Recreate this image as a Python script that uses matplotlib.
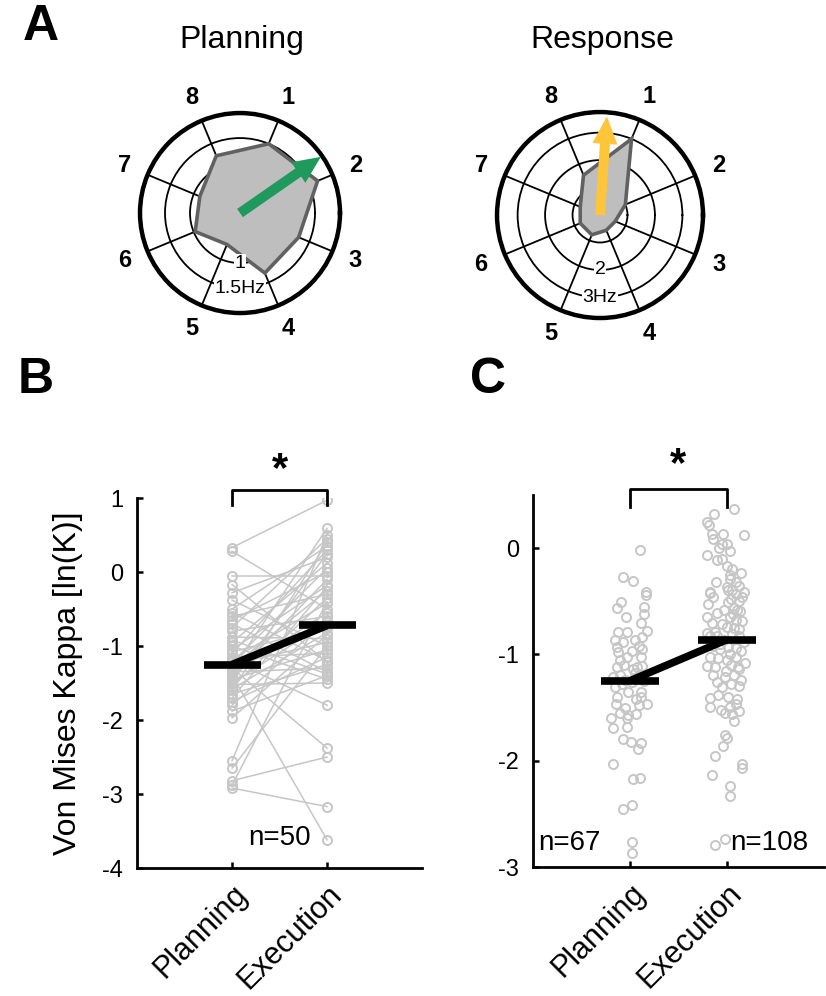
import numpy as np
import matplotlib
matplotlib.use("Agg")
import matplotlib.pyplot as plt

plt.rcParams['font.family'] = ['Liberation Sans', 'DejaVu Sans']

# ---- panel A: tuning of firing rate over the 8 targets ----
directions = ['1', '2', '3', '4', '5', '6', '7', '8']
dir_angles = [67.5, 22.5, 337.5, 292.5, 247.5, 202.5, 157.5, 112.5]   # degrees, ccw from east

planning_rate = [1.50, 1.68, 1.27, 1.30, 0.68, 0.97, 0.87, 1.24]   # Hz
planning_pref_angle = 34.8
planning_pref_len = 1.97
planning_rings = [0.5, 1.0, 1.5]
planning_rmax = 2.0

response_rate = [3.00, 1.00, 0.60, 0.60, 0.78, 0.78, 0.78, 1.57]   # Hz
response_pref_angle = 86.0
response_pref_len = 3.6
response_rings = [1.0, 2.0, 3.0]
response_rmax = 3.75

# ---- panel B: paired kappa values (ln K), n=50 ----
kappa_plan_B = [0.33, 0.28, -0.05, -0.28, -0.38, -0.5, -0.55, -0.6, -0.65, -0.7,
                -0.75, -0.8, -0.88, -0.95, -1.0, -1.05, -1.08, -1.1, -1.15, -1.18,
                -1.2, -1.22, -1.25, -1.28, -1.3, -1.32, -1.35, -1.38, -1.4, -1.42,
                -1.45, -1.48, -1.5, -1.52, -1.55, -1.58, -1.6, -1.65, -1.7, -1.75,
                -1.8, -1.88, -1.97, -2.55, -2.65, -2.82, -2.88, -2.92, -0.17, -0.92]
kappa_exec_B = [0.97, -0.5, -0.05, 0.2, -1.0, 0.35, -1.2, -0.3, 0.0, -1.35,
                0.45, -0.6, -0.9, 0.12, -1.45, -0.18, -0.75, 0.3, -1.1, -0.42,
                -1.8, 0.05, -0.95, -0.25, -2.38, 0.59, -1.3, -0.55, -3.62, -0.1,
                -1.05, 0.25, -0.68, -1.5, -0.35, -0.82, 0.4, -1.25, -0.2, -1.15,
                -0.65, -1.4, -0.85, 0.5, -1.0, -2.5, -0.4, -3.17, -1.22, -1.38]

# ---- panel C: unpaired kappa values, planning n=67, execution n=108 ----
# (jitter offset along x, value)
plan_C = [(0.11, -0.02), (-0.07, -0.27), (0.03, -0.31), (0.17, -0.41), (0.17, -0.44),
          (-0.09, -0.51), (-0.13, -0.56), (0.15, -0.55), (0.15, -0.62), (-0.04, -0.65),
          (0.12, -0.70), (-0.12, -0.79), (-0.03, -0.79), (0.13, -0.84), (-0.15, -0.86),
          (-0.07, -0.88), (0.05, -0.86), (-0.13, -0.93), (0.10, -0.92), (0.13, -0.95),
          (-0.10, -1.05), (-0.03, -1.02), (0.12, -1.02), (-0.13, -1.12), (0.03, -1.14),
          (0.08, -1.12), (0.13, -1.11), (-0.17, -1.21), (-0.10, -1.19), (0.05, -1.17),
          (-0.05, -1.24), (0.02, -1.26), (-0.15, -1.31), (-0.02, -1.35), (0.12, -1.35),
          (-0.13, -1.40), (0.12, -1.40), (-0.14, -1.47), (-0.05, -1.50), (0.10, -1.48),
          (0.18, -1.47), (-0.10, -1.55), (-0.02, -1.57), (0.07, -1.56), (-0.19, -1.60),
          (-0.03, -1.60), (-0.17, -1.69), (-0.03, -1.68), (-0.07, -1.80), (0.01, -1.82),
          (0.12, -1.83), (0.09, -1.89), (-0.17, -2.03), (0.03, -2.17), (0.11, -2.16),
          (-0.07, -2.45), (0.02, -2.42), (0.02, -2.76), (0.02, -2.87), (0.08, -1.22),
          (-0.08, -1.28), (0.15, -1.25), (-0.12, -0.98), (0.02, -0.97), (0.06, -1.42),
          (-0.06, -1.10), (0.18, -0.78)]
exec_C = [(0.08, 0.37), (-0.13, 0.32), (-0.20, 0.25), (-0.18, 0.22), (0.18, 0.12),
          (-0.15, 0.13), (-0.14, 0.09), (-0.04, 0.13), (-0.05, 0.04), (0.00, 0.04),
          (-0.08, 0.00), (-0.20, -0.06), (0.03, -0.03), (-0.10, -0.11), (-0.05, -0.10),
          (0.00, -0.17), (0.06, -0.20), (0.03, -0.25), (0.15, -0.23), (0.03, -0.29),
          (0.10, -0.32), (-0.11, -0.32), (0.00, -0.37), (0.06, -0.39), (0.13, -0.36),
          (-0.17, -0.42), (0.10, -0.43), (0.16, -0.46), (0.13, -0.50), (0.05, -0.48),
          (0.01, -0.51), (-0.19, -0.53), (0.08, -0.56), (0.14, -0.59), (0.18, -0.41),
          (-0.17, -0.41), (0.01, -0.39), (-0.10, -0.61), (-0.20, -0.65), (0.03, -0.65),
          (0.10, -0.68), (0.16, -0.69), (-0.05, -0.71), (0.00, -0.74), (0.08, -0.75),
          (0.13, -0.76), (-0.20, -0.80), (-0.17, -0.83), (-0.10, -0.83), (-0.03, -0.86),
          (0.06, -0.81), (0.13, -0.83), (-0.12, -0.79), (0.11, -0.58), (-0.14, -0.92),
          (-0.07, -0.95), (0.01, -0.93), (0.10, -0.94), (0.15, -0.97), (-0.17, -1.02),
          (-0.09, -1.03), (0.00, -1.05), (0.10, -1.02), (-0.20, -1.11), (-0.12, -1.12),
          (0.05, -1.10), (0.13, -1.14), (-0.14, -1.19), (-0.02, -1.21), (0.08, -1.19),
          (0.15, -1.24), (-0.10, -1.26), (-0.05, -1.31), (0.05, -1.28), (0.13, -1.30),
          (-0.17, -1.41), (-0.09, -1.38), (0.01, -1.40), (0.11, -1.42), (-0.17, -1.49),
          (0.03, -1.49), (0.10, -1.47), (-0.02, -1.55), (0.06, -1.56), (0.13, -1.53),
          (0.08, -1.63), (-0.06, -1.52), (-0.02, -1.76), (0.00, -1.79), (-0.04, -1.86),
          (-0.12, -1.96), (0.16, -2.03), (0.16, -2.07), (-0.15, -2.13), (0.03, -2.24),
          (0.04, -2.33), (-0.12, -2.79), (-0.02, -2.74), (0.12, -1.12), (-0.14, -0.46),
          (0.07, -0.62), (-0.07, -0.90), (0.18, -0.88), (-0.15, -0.70), (0.04, -1.00),
          (-0.03, -0.58), (0.19, -1.08), (-0.01, -1.16)]

conditions = ['Planning', 'Execution']

GRAY = '#c6c6c6'

fig = plt.figure(figsize=(8.26, 9.96), dpi=100)


def polar_panel(rect, rate, pref_angle, pref_len, rings, ring_labels, rmax, arrow_color):
    ax = fig.add_axes(rect, projection='polar')
    th = np.deg2rad(dir_angles + dir_angles[:1])
    r = rate + rate[:1]
    ax.fill(th, r, facecolor='#bebebe', edgecolor='#616161', lw=2.6, zorder=2)
    ax.set_xlim(0, 2 * np.pi)
    ax.set_ylim(0, rmax)
    ax.set_thetagrids(dir_angles, [''] * 8)
    ax.set_rgrids(rings, [''] * len(rings))
    ax.grid(True, color='k', lw=1.3)
    ax.spines['polar'].set_linewidth(3.2)
    ax.tick_params(length=0)
    for a, lab in zip(dir_angles, directions):
        ax.text(np.deg2rad(a), rmax * 1.25, lab, ha='center', va='center',
                fontsize=17, fontweight='bold', clip_on=False)
    # radial labels on the rings, straight below the centre
    for rv, lab in zip(rings[1:], ring_labels):
        ax.text(np.deg2rad(270), rv, lab, ha='center', va='center', fontsize=14,
                bbox=dict(facecolor='white', edgecolor='none', pad=0.3), zorder=3)
    ax.annotate('', xy=(np.deg2rad(pref_angle), pref_len), xytext=(0, 0),
                arrowprops=dict(arrowstyle='simple,head_length=1.1,head_width=1.0,tail_width=0.4',
                                color=arrow_color, lw=0, shrinkA=0, shrinkB=0,
                                mutation_scale=18), zorder=4)
    return ax


polar_panel([0.1695, 0.6857, 0.2421, 0.2008], planning_rate,
            planning_pref_angle, planning_pref_len, planning_rings, ['1', '1.5Hz'],
            planning_rmax, '#1f9a5c')
polar_panel([0.6017, 0.6807, 0.2494, 0.2068], response_rate,
            response_pref_angle, response_pref_len, response_rings, ['2', '3Hz'],
            response_rmax, '#fcc53a')
fig.text(242 / 826, 1 - 40 / 996, 'Planning', ha='center', va='center', fontsize=23)
fig.text(602 / 826, 1 - 40 / 996, 'Response', ha='center', va='center', fontsize=23)


def style_axis(ax, ylim, yticks):
    ax.set_xlim(0, 3)
    ax.set_ylim(*ylim)
    ax.spines['top'].set_visible(False)
    ax.spines['right'].set_visible(False)
    for s in ['left', 'bottom']:
        ax.spines[s].set_linewidth(2)
    ax.set_xticks([1, 2])
    ax.set_xticklabels(conditions, rotation=45, ha='right', rotation_mode='anchor', fontsize=22)
    ax.set_yticks(yticks)
    ax.set_yticklabels([str(t) for t in yticks], fontsize=17)
    ax.tick_params(direction='in', length=4, width=1.8, pad=10)
    ax.tick_params(axis='x', pad=8)


def mean_bars(ax, m1, m2):
    ax.plot([1, 2], [m1, m2], color='k', lw=5.5, solid_capstyle='butt', zorder=5)
    ax.plot([0.7, 1.3], [m1, m1], color='k', lw=5.5, solid_capstyle='butt', zorder=5)
    ax.plot([1.7, 2.3], [m2, m2], color='k', lw=5.5, solid_capstyle='butt', zorder=5)


def bracket(ax, y_top, y_leg, y_star):
    ax.plot([1, 1, 2, 2], [y_leg, y_top, y_top, y_leg], color='k', lw=2, clip_on=False)
    ax.text(1.5, y_star, '*', ha='center', va='center', fontsize=30, fontweight='bold')


# ---- panel B ----
axB = fig.add_axes([0.166, 0.1285, 0.345, 0.3715])
for p, e in zip(kappa_plan_B, kappa_exec_B):
    axB.plot([1, 2], [p, e], color=GRAY, lw=1.1, zorder=1)
axB.plot([1] * len(kappa_plan_B), kappa_plan_B, 'o', mfc='none', mec=GRAY, ms=6.5, mew=1.4, zorder=2)
axB.plot([2] * len(kappa_exec_B), kappa_exec_B, 'o', mfc='none', mec=GRAY, ms=6.5, mew=1.4, zorder=2)
mean_bars(axB, np.mean(kappa_plan_B), np.mean(kappa_exec_B))
style_axis(axB, (-4, 1), [-4, -3, -2, -1, 0, 1])
axB.set_ylabel('Von Mises Kappa [ln(K)]', fontsize=23, labelpad=14)
bracket(axB, 1.11, 0.9, 1.38)
axB.text(1.5, -3.6, 'n=50', ha='center', va='center', fontsize=20)

# ---- panel C ----
axC = fig.add_axes([0.645, 0.1295, 0.352, 0.3735])
pc = np.array(plan_C)
ec = np.array(exec_C)
axC.plot(1 + pc[:, 0], pc[:, 1], 'o', mfc='none', mec=GRAY, ms=6.5, mew=1.4, zorder=2)
axC.plot(2 + ec[:, 0], ec[:, 1], 'o', mfc='none', mec=GRAY, ms=6.5, mew=1.4, zorder=2)
mean_bars(axC, pc[:, 1].mean(), ec[:, 1].mean())
style_axis(axC, (-3, 0.5), [-3, -2, -1, 0])
bracket(axC, 0.56, 0.39, 0.78)
axC.text(0.38, -2.77, 'n=%d' % len(plan_C), ha='center', va='center', fontsize=20)
axC.text(2.44, -2.77, 'n=%d' % len(exec_C), ha='center', va='center', fontsize=20)

# panel letters
fig.text(41 / 826, 1 - 27 / 996, 'A', fontsize=36, fontweight='bold', ha='center', va='center')
fig.text(36 / 826, 1 - 380 / 996, 'B', fontsize=36, fontweight='bold', ha='center', va='center')
fig.text(488 / 826, 1 - 380 / 996, 'C', fontsize=36, fontweight='bold', ha='center', va='center')

fig.savefig('out.png', dpi=100)
